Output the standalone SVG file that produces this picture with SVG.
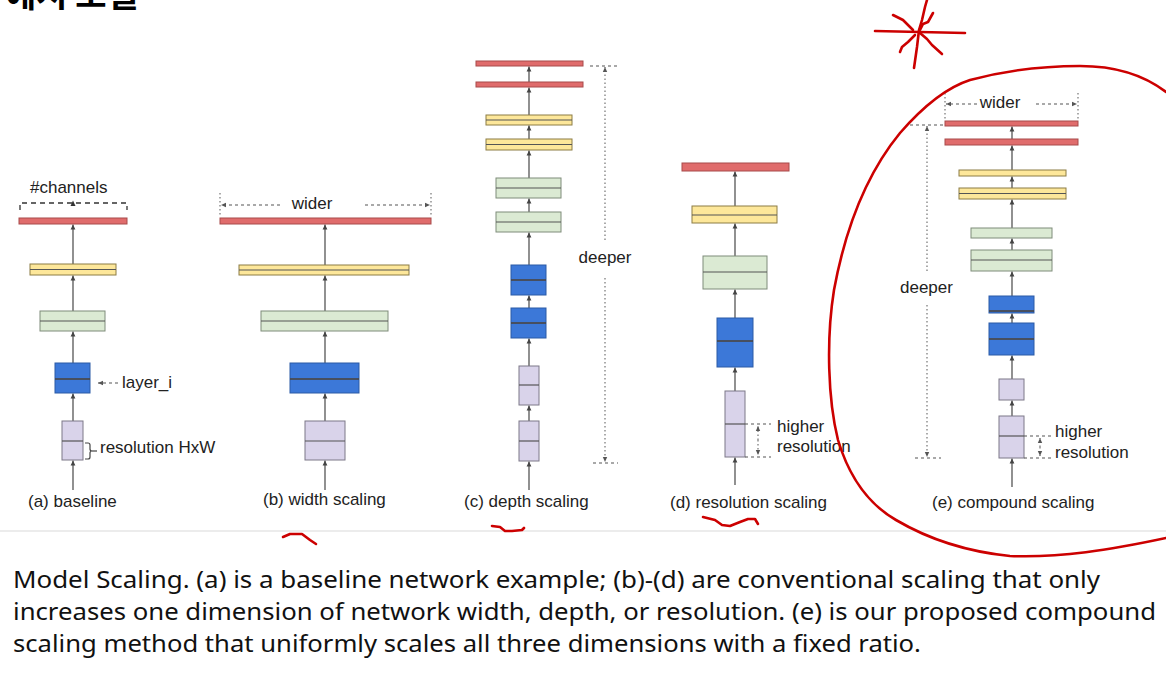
<svg xmlns="http://www.w3.org/2000/svg" width="1166" height="673" viewBox="0 0 1166 673">
<style>
.lbl{font-family:"Liberation Sans",Arial,sans-serif;font-size:17px;fill:#222}
.cap{font-family:"Noto Sans","Liberation Sans",sans-serif;font-size:24px;fill:#111}
.red{fill:#e06c6c;stroke:#a84a4a;stroke-width:1}
.yel{fill:#fde79a;stroke:#8c7d45;stroke-width:1}
.grn{fill:#dbead3;stroke:#7f8c7a;stroke-width:1}
.blu{fill:#3c78d8;stroke:#2b5aa6;stroke-width:1}
.lav{fill:#d9d3ea;stroke:#7d7888;stroke-width:1}
.mid{stroke:#555;stroke-width:1.2;fill:none}
.midb{stroke:#4b4238;stroke-width:1.5;fill:none}
.conn line{stroke:#555;stroke-width:1.3;marker-end:url(#ah)}
.dash{stroke:#555;stroke-width:1.1;stroke-dasharray:3 3;fill:none}
.dot{stroke:#666;stroke-width:1.1;stroke-dasharray:1.5 2.5;fill:none}
.brk{stroke:#333;stroke-width:1.3;stroke-dasharray:5 4;fill:none}
.pen{stroke:#cc0000;stroke-width:2.6;fill:none;stroke-linecap:round;stroke-linejoin:round}
</style>
<defs>
<marker id="ah" markerUnits="userSpaceOnUse" markerWidth="6" markerHeight="6" refX="5" refY="3" orient="auto">
<path d="M0,0.6 L5,3 L0,5.4 z" fill="#444"/>
</marker>
<marker id="ahs" markerUnits="userSpaceOnUse" markerWidth="6" markerHeight="6" refX="5" refY="3" orient="auto">
<path d="M0,0.8 L5,3 L0,5.2 z" fill="#555"/>
</marker>
</defs>
<rect width="1166" height="673" fill="#ffffff"/>

<text x="5" y="7" font-family="'Noto Sans CJK KR',sans-serif" font-weight="bold" font-size="34" fill="#000">예시 모델</text>

<line x1="0" y1="531" x2="1166" y2="531" stroke="#e6e6e6" stroke-width="1.5"/>

<g id="connectors" class="conn">
<line x1="73" y1="490" x2="73" y2="460.5"/>
<line x1="73" y1="421" x2="73" y2="393.5"/>
<line x1="73" y1="363" x2="73" y2="331.5"/>
<line x1="73" y1="311" x2="73" y2="275.5"/>
<line x1="73" y1="264" x2="73" y2="224.5"/>
<line x1="325" y1="490" x2="325" y2="460.5"/>
<line x1="325" y1="421" x2="325" y2="393.5"/>
<line x1="325" y1="363" x2="325" y2="331.5"/>
<line x1="325" y1="311" x2="325" y2="275.5"/>
<line x1="325" y1="265" x2="325" y2="224.5"/>
<line x1="529" y1="490" x2="529" y2="461.5"/>
<line x1="529" y1="421" x2="529" y2="405.5"/>
<line x1="529" y1="366" x2="529" y2="338.5"/>
<line x1="529" y1="308" x2="529" y2="295.5"/>
<line x1="529" y1="265" x2="529" y2="232.5"/>
<line x1="529" y1="212" x2="529" y2="198.5"/>
<line x1="529" y1="178" x2="529" y2="150.5"/>
<line x1="529" y1="139" x2="529" y2="125.5"/>
<line x1="529" y1="115" x2="529" y2="87.5"/>
<line x1="529" y1="82" x2="529" y2="66.5"/>
<line x1="735" y1="485" x2="735" y2="457.5"/>
<line x1="735" y1="391" x2="735" y2="367.5"/>
<line x1="735" y1="318" x2="735" y2="289.5"/>
<line x1="735" y1="256" x2="735" y2="223.5"/>
<line x1="735" y1="206" x2="735" y2="171.5"/>
<line x1="1012" y1="487" x2="1012" y2="458.5"/>
<line x1="1012" y1="416" x2="1012" y2="400.5"/>
<line x1="1012" y1="379" x2="1012" y2="355.5"/>
<line x1="1012" y1="323" x2="1012" y2="313.5"/>
<line x1="1012" y1="296" x2="1012" y2="271.5"/>
<line x1="1012" y1="250" x2="1012" y2="238.5"/>
<line x1="1012" y1="228" x2="1012" y2="199.5"/>
<line x1="1012" y1="188" x2="1012" y2="176.5"/>
<line x1="1012" y1="170" x2="1012" y2="145.5"/>
<line x1="1012" y1="139" x2="1012" y2="126.5"/>
</g>

<!-- (a) baseline -->
<g id="a-red"><rect class="red" x="19" y="218" width="108" height="6"/></g>
<g id="a-yellow"><rect class="yel" x="30" y="264" width="86" height="11"/><line class="mid" x1="30" y1="269.5" x2="116" y2="269.5"/></g>
<g id="a-green"><rect class="grn" x="40" y="311" width="65" height="20"/><line class="mid" x1="40" y1="321" x2="105" y2="321"/></g>
<g id="a-blue"><rect class="blu" x="55" y="363" width="35" height="30"/><line class="midb" x1="55" y1="379" x2="90" y2="379"/></g>
<g id="a-lav"><rect class="lav" x="62" y="421" width="21" height="39"/><line class="mid" x1="62" y1="441" x2="83" y2="441"/></g>
<g id="a-annot">
<path class="brk" d="M20,210 V203 H127 V210"/>
<path d="M70.5,206 L73,200.5 L75.5,206 z" fill="#333"/>
<text class="lbl" x="30" y="193">#channels</text>
<line class="dash" x1="118" y1="383" x2="98" y2="383" marker-end="url(#ahs)"/>
<text class="lbl" x="122" y="388">layer_i</text>
<path d="M85,443 H88 Q90,443 90,445 V449 Q90,451 92,451 Q90,451 90,453 V457 Q90,459 88,459 H85" fill="none" stroke="#444" stroke-width="1.2"/>
<line x1="92" y1="451" x2="97" y2="451" stroke="#444" stroke-width="1.2"/>
<text class="lbl" x="100" y="453">resolution HxW</text>
<text class="lbl" x="28" y="507">(a) baseline</text>
</g>

<!-- (b) width scaling -->
<g id="b-red"><rect class="red" x="220" y="218" width="211" height="6"/></g>
<g id="b-yellow"><rect class="yel" x="239" y="265" width="170" height="10"/><line class="mid" x1="239" y1="270" x2="409" y2="270"/></g>
<g id="b-green"><rect class="grn" x="261" y="311" width="127" height="20"/><line class="mid" x1="261" y1="321" x2="388" y2="321"/></g>
<g id="b-blue"><rect class="blu" x="290" y="363" width="69" height="30"/><line class="midb" x1="290" y1="379" x2="359" y2="379"/></g>
<g id="b-lav"><rect class="lav" x="305" y="421" width="40" height="39"/><line class="mid" x1="305" y1="441" x2="345" y2="441"/></g>
<g id="b-annot">
<line class="dot" x1="220" y1="193" x2="220" y2="217"/>
<line class="dot" x1="431" y1="193" x2="431" y2="217"/>
<line class="dash" x1="280" y1="205" x2="221" y2="205" marker-end="url(#ahs)"/>
<line class="dash" x1="365" y1="205" x2="430" y2="205" marker-end="url(#ahs)"/>
<text class="lbl" x="312" y="209" text-anchor="middle">wider</text>
<text class="lbl" x="263" y="505">(b) width scaling</text>
</g>

<!-- (c) depth scaling -->
<g id="c-red1"><rect class="red" x="476" y="61" width="107" height="5"/></g>
<g id="c-red2"><rect class="red" x="476" y="82" width="107" height="5"/></g>
<g id="c-yellow1"><rect class="yel" x="486" y="115" width="86" height="10"/><line class="mid" x1="486" y1="120" x2="572" y2="120"/></g>
<g id="c-yellow2"><rect class="yel" x="486" y="139" width="86" height="11"/><line class="mid" x1="486" y1="144.5" x2="572" y2="144.5"/></g>
<g id="c-green1"><rect class="grn" x="496" y="178" width="65" height="20"/><line class="mid" x1="496" y1="188" x2="561" y2="188"/></g>
<g id="c-green2"><rect class="grn" x="496" y="212" width="65" height="20"/><line class="mid" x1="496" y1="222" x2="561" y2="222"/></g>
<g id="c-blue1"><rect class="blu" x="511" y="265" width="35" height="30"/><line class="midb" x1="511" y1="280" x2="546" y2="280"/></g>
<g id="c-blue2"><rect class="blu" x="511" y="308" width="35" height="30"/><line class="midb" x1="511" y1="323" x2="546" y2="323"/></g>
<g id="c-lav1"><rect class="lav" x="519" y="366" width="20" height="39"/><line class="mid" x1="519" y1="385" x2="539" y2="385"/></g>
<g id="c-lav2"><rect class="lav" x="519" y="421" width="20" height="40"/><line class="mid" x1="519" y1="441" x2="539" y2="441"/></g>
<g id="c-annot">
<line class="dash" x1="590" y1="66" x2="617" y2="66"/>
<line class="dash" x1="593" y1="463" x2="618" y2="463"/>
<line class="dot" x1="605" y1="240" x2="605" y2="67" marker-end="url(#ahs)"/>
<line class="dot" x1="605" y1="278" x2="605" y2="462" marker-end="url(#ahs)"/>
<text class="lbl" x="605" y="263" text-anchor="middle">deeper</text>
<text class="lbl" x="464" y="507">(c) depth scaling</text>
</g>

<!-- (d) resolution scaling -->
<g id="d-red"><rect class="red" x="682" y="163" width="107" height="8"/></g>
<g id="d-yellow"><rect class="yel" x="692" y="206" width="85" height="17"/><line class="mid" x1="692" y1="215" x2="777" y2="215"/></g>
<g id="d-green"><rect class="grn" x="703" y="256" width="64" height="33"/><line class="mid" x1="703" y1="272" x2="767" y2="272"/></g>
<g id="d-blue"><rect class="blu" x="717" y="318" width="36" height="49"/><line class="midb" x1="717" y1="341" x2="753" y2="341"/></g>
<g id="d-lav"><rect class="lav" x="725" y="391" width="20" height="66"/><line class="mid" x1="725" y1="424" x2="745" y2="424"/></g>
<g id="d-annot">
<line class="dash" x1="745" y1="424" x2="771" y2="424"/>
<line class="dash" x1="745" y1="457" x2="771" y2="457"/>
<line class="dot" x1="758" y1="440" x2="758" y2="426" marker-end="url(#ahs)"/>
<line class="dot" x1="758" y1="440" x2="758" y2="455" marker-end="url(#ahs)"/>
<text class="lbl" x="777" y="432">higher</text>
<text class="lbl" x="777" y="452">resolution</text>
<text class="lbl" x="670" y="508">(d) resolution scaling</text>
</g>

<!-- (e) compound scaling -->
<g id="e-red1"><rect class="red" x="945" y="121" width="133" height="5"/></g>
<g id="e-red2"><rect class="red" x="945" y="139" width="133" height="6"/></g>
<g id="e-yellow1"><rect class="yel" x="959" y="170" width="107" height="6"/></g>
<g id="e-yellow2"><rect class="yel" x="959" y="188" width="107" height="11"/><line class="mid" x1="959" y1="193.5" x2="1066" y2="193.5"/></g>
<g id="e-green1"><rect class="grn" x="971" y="228" width="81" height="10"/></g>
<g id="e-green2"><rect class="grn" x="971" y="250" width="81" height="21"/><line class="mid" x1="971" y1="260" x2="1052" y2="260"/></g>
<g id="e-blue1"><rect class="blu" x="989" y="296" width="45" height="17"/><line class="midb" x1="989" y1="311" x2="1034" y2="311"/></g>
<g id="e-blue2"><rect class="blu" x="989" y="323" width="45" height="32"/><line class="midb" x1="989" y1="339" x2="1034" y2="339"/></g>
<g id="e-lav1"><rect class="lav" x="999" y="379" width="25" height="21"/></g>
<g id="e-lav2"><rect class="lav" x="999" y="416" width="25" height="42"/><line class="mid" x1="999" y1="436" x2="1024" y2="436"/></g>
<g id="e-annot">
<line class="dot" x1="945" y1="93" x2="945" y2="120"/>
<line class="dot" x1="1078" y1="93" x2="1078" y2="120"/>
<line class="dash" x1="977" y1="104" x2="946" y2="104" marker-end="url(#ahs)"/>
<line class="dash" x1="1036" y1="104" x2="1077" y2="104" marker-end="url(#ahs)"/>
<text class="lbl" x="1000" y="108" text-anchor="middle">wider</text>
<line class="dash" x1="910" y1="125" x2="943" y2="125"/>
<line class="dash" x1="915" y1="458" x2="941" y2="458"/>
<line class="dot" x1="927" y1="271" x2="927" y2="126" marker-end="url(#ahs)"/>
<line class="dot" x1="927" y1="305" x2="927" y2="457" marker-end="url(#ahs)"/>
<text class="lbl" x="900" y="293">deeper</text>
<line class="dash" x1="1024" y1="436" x2="1053" y2="436"/>
<line class="dash" x1="1024" y1="458" x2="1053" y2="458"/>
<line class="dot" x1="1040" y1="447" x2="1040" y2="438" marker-end="url(#ahs)"/>
<line class="dot" x1="1040" y1="447" x2="1040" y2="456" marker-end="url(#ahs)"/>
<text class="lbl" x="1055" y="437">higher</text>
<text class="lbl" x="1055" y="458">resolution</text>
<text class="lbl" x="932" y="508">(e) compound scaling</text>
</g>

<g id="caption">
<text class="cap" x="13" y="588" textLength="1087" lengthAdjust="spacingAndGlyphs">Model Scaling. (a) is a baseline network example; (b)-(d) are conventional scaling that only</text>
<text class="cap" x="13" y="620" textLength="1143" lengthAdjust="spacingAndGlyphs">increases one dimension of network width, depth, or resolution. (e) is our proposed compound</text>
<text class="cap" x="13" y="652" textLength="908" lengthAdjust="spacingAndGlyphs">scaling method that uniformly scales all three dimensions with a fixed ratio.</text>
</g>

<g id="red-marks">
<path class="pen" d="M1166,92 C1140,72 1110,66 1080,66 C1040,66 1000,72 970,80 C945,88 920,110 900,133 C868,172 846,225 834,290 C826,340 828,400 838,440 C850,480 870,505 896,520 C930,540 970,552 1010,556 C1060,558 1110,550 1166,538"/>
<path class="pen" d="M875,31 L965,33"/>
<path class="pen" d="M914,68 L917,47 L919,30 L922,20 L925,7 L927,0"/>
<path class="pen" d="M893,15 L903,20 L913,30"/>
<path class="pen" d="M900,52 L902,47 L908,42 L915,35"/>
<path class="pen" d="M933,13 L928,22 L923,24 L920,30"/>
<path class="pen" d="M920,33 L927,39 L932,45 L942,54"/>
<path class="pen" d="M283,537 L290,534 L302,534 L310,540 L316,544"/>
<path class="pen" d="M492,526 L500,527 L505,531 L512,531 L522,530 L524,528"/>
<path class="pen" d="M703,517 L715,520 L722,525 L730,526 L740,522 L748,519 L755,519 L758,524"/>
</g>
</svg>
